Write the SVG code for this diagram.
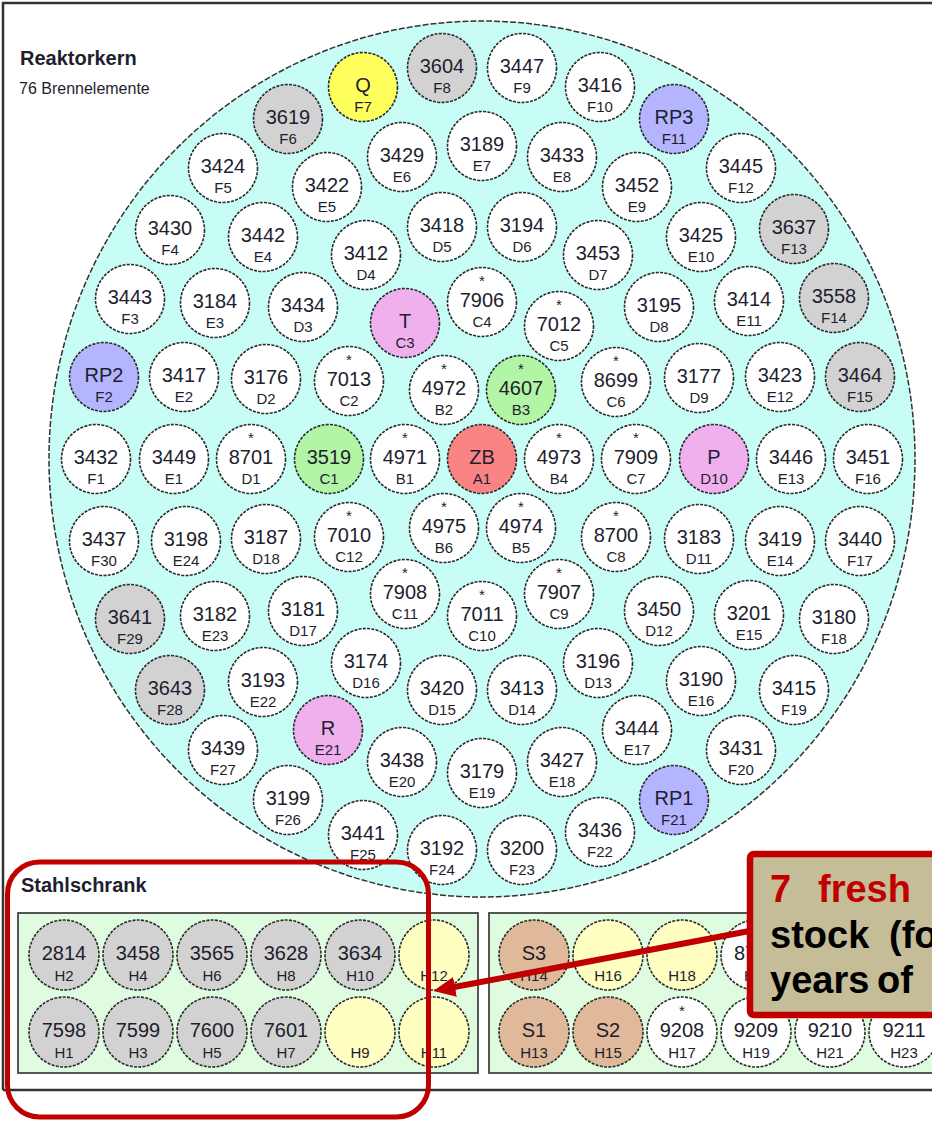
<svg xmlns="http://www.w3.org/2000/svg" width="932" height="1124" viewBox="0 0 932 1124">
<style>
.c{stroke:#2a2a2a;stroke-width:1.6;stroke-dasharray:3 1.3}
.w{fill:#fff}.g{fill:#d2d2d2}.y{fill:#ffff5e}.p{fill:#b4b4ff}.k{fill:#f0b0ee}.gr{fill:#b2f5a4}.r{fill:#fa8484}.ly{fill:#ffffc2}.s{fill:#dfb999}
text{font-family:"Liberation Sans",Arial,sans-serif;fill:#1e1e2e}
.n{font-size:20px;text-anchor:middle}
.l{font-size:15px;text-anchor:middle}
.a{font-size:15px;text-anchor:middle}
.h{font-size:20px;font-weight:bold}
.co{font-size:38px;font-weight:bold;fill:#000}
.red{fill:#c00000}
.box{fill:#e0fce0;stroke:#444;stroke-width:1.8}
</style>
<defs>
<marker id="ah" markerWidth="22" markerHeight="20" refX="2" refY="10" orient="auto" markerUnits="userSpaceOnUse"><path d="M0,0 L22,10 L0,20 z" fill="#c00000"/></marker>
</defs>
<rect width="932" height="1124" fill="#fff"/>
<path d="M3,1090 V3 H940 M3,1090 H940" fill="none" stroke="#333" stroke-width="2.5"/>
<text class="h" x="20" y="65">Reaktorkern</text>
<text x="19" y="94" style="font-size:16px">76 Brennelemente</text>
<ellipse id="core" cx="482" cy="459" rx="433" ry="438" fill="#c8fdf6" stroke="#333" stroke-width="1.5" stroke-dasharray="6 2"/>
<g id="nodes">
<g id="F8" transform="translate(442,68)"><circle class="c g" r="34.5"/><text class="n" y="5">3604</text><text class="l" y="25">F8</text></g>
<g id="F9" transform="translate(522,68)"><circle class="c w" r="34.5"/><text class="n" y="5">3447</text><text class="l" y="25">F9</text></g>
<g id="F10" transform="translate(600,87)"><circle class="c w" r="34.5"/><text class="n" y="5">3416</text><text class="l" y="25">F10</text></g>
<g id="F7" transform="translate(363,87)"><circle class="c y" r="34.5"/><text class="n" y="5">Q</text><text class="l" y="25">F7</text></g>
<g id="F6" transform="translate(288,119)"><circle class="c g" r="34.5"/><text class="n" y="5">3619</text><text class="l" y="25">F6</text></g>
<g id="F11" transform="translate(674,119)"><circle class="c p" r="34.5"/><text class="n" y="5">RP3</text><text class="l" y="25">F11</text></g>
<g id="F5" transform="translate(223,168)"><circle class="c w" r="34.5"/><text class="n" y="5">3424</text><text class="l" y="25">F5</text></g>
<g id="E6" transform="translate(402,157)"><circle class="c w" r="34.5"/><text class="n" y="5">3429</text><text class="l" y="25">E6</text></g>
<g id="E7" transform="translate(482,146)"><circle class="c w" r="34.5"/><text class="n" y="5">3189</text><text class="l" y="25">E7</text></g>
<g id="E8" transform="translate(562,157)"><circle class="c w" r="34.5"/><text class="n" y="5">3433</text><text class="l" y="25">E8</text></g>
<g id="F12" transform="translate(741,168)"><circle class="c w" r="34.5"/><text class="n" y="5">3445</text><text class="l" y="25">F12</text></g>
<g id="E5" transform="translate(327,187)"><circle class="c w" r="34.5"/><text class="n" y="5">3422</text><text class="l" y="25">E5</text></g>
<g id="E9" transform="translate(637,187)"><circle class="c w" r="34.5"/><text class="n" y="5">3452</text><text class="l" y="25">E9</text></g>
<g id="F4" transform="translate(170,230)"><circle class="c w" r="34.5"/><text class="n" y="5">3430</text><text class="l" y="25">F4</text></g>
<g id="E4" transform="translate(263,237)"><circle class="c w" r="34.5"/><text class="n" y="5">3442</text><text class="l" y="25">E4</text></g>
<g id="D5" transform="translate(442,227)"><circle class="c w" r="34.5"/><text class="n" y="5">3418</text><text class="l" y="25">D5</text></g>
<g id="D6" transform="translate(522,227)"><circle class="c w" r="34.5"/><text class="n" y="5">3194</text><text class="l" y="25">D6</text></g>
<g id="E10" transform="translate(701,237)"><circle class="c w" r="34.5"/><text class="n" y="5">3425</text><text class="l" y="25">E10</text></g>
<g id="F13" transform="translate(794,229)"><circle class="c g" r="34.5"/><text class="n" y="5">3637</text><text class="l" y="25">F13</text></g>
<g id="D4" transform="translate(366,255)"><circle class="c w" r="34.5"/><text class="n" y="5">3412</text><text class="l" y="25">D4</text></g>
<g id="D7" transform="translate(598,255)"><circle class="c w" r="34.5"/><text class="n" y="5">3453</text><text class="l" y="25">D7</text></g>
<g id="F3" transform="translate(130,299)"><circle class="c w" r="34.5"/><text class="n" y="5">3443</text><text class="l" y="25">F3</text></g>
<g id="E3" transform="translate(215,303)"><circle class="c w" r="34.5"/><text class="n" y="5">3184</text><text class="l" y="25">E3</text></g>
<g id="D3" transform="translate(303,307)"><circle class="c w" r="34.5"/><text class="n" y="5">3434</text><text class="l" y="25">D3</text></g>
<g id="C3" transform="translate(405,323)"><circle class="c k" r="34.5"/><text class="n" y="5">T</text><text class="l" y="25">C3</text></g>
<g id="C4" transform="translate(482,302)"><circle class="c w" r="34.5"/><text class="a" y="-16">*</text><text class="n" y="5">7906</text><text class="l" y="25">C4</text></g>
<g id="C5" transform="translate(559,326)"><circle class="c w" r="34.5"/><text class="a" y="-16">*</text><text class="n" y="5">7012</text><text class="l" y="25">C5</text></g>
<g id="D8" transform="translate(659,307)"><circle class="c w" r="34.5"/><text class="n" y="5">3195</text><text class="l" y="25">D8</text></g>
<g id="E11" transform="translate(749,301)"><circle class="c w" r="34.5"/><text class="n" y="5">3414</text><text class="l" y="25">E11</text></g>
<g id="F14" transform="translate(834,298)"><circle class="c g" r="34.5"/><text class="n" y="5">3558</text><text class="l" y="25">F14</text></g>
<g id="F2" transform="translate(104,377)"><circle class="c p" r="34.5"/><text class="n" y="5">RP2</text><text class="l" y="25">F2</text></g>
<g id="E2" transform="translate(184,377)"><circle class="c w" r="34.5"/><text class="n" y="5">3417</text><text class="l" y="25">E2</text></g>
<g id="D2" transform="translate(266,379)"><circle class="c w" r="34.5"/><text class="n" y="5">3176</text><text class="l" y="25">D2</text></g>
<g id="C2" transform="translate(349,381)"><circle class="c w" r="34.5"/><text class="a" y="-16">*</text><text class="n" y="5">7013</text><text class="l" y="25">C2</text></g>
<g id="B2" transform="translate(444,390)"><circle class="c w" r="34.5"/><text class="a" y="-16">*</text><text class="n" y="5">4972</text><text class="l" y="25">B2</text></g>
<g id="B3" transform="translate(521,390)"><circle class="c gr" r="34.5"/><text class="a" y="-16">*</text><text class="n" y="5">4607</text><text class="l" y="25">B3</text></g>
<g id="C6" transform="translate(616,382)"><circle class="c w" r="34.5"/><text class="a" y="-16">*</text><text class="n" y="5">8699</text><text class="l" y="25">C6</text></g>
<g id="D9" transform="translate(699,378)"><circle class="c w" r="34.5"/><text class="n" y="5">3177</text><text class="l" y="25">D9</text></g>
<g id="E12" transform="translate(780,377)"><circle class="c w" r="34.5"/><text class="n" y="5">3423</text><text class="l" y="25">E12</text></g>
<g id="F15" transform="translate(860,377)"><circle class="c g" r="34.5"/><text class="n" y="5">3464</text><text class="l" y="25">F15</text></g>
<g id="F1" transform="translate(96,459)"><circle class="c w" r="34.5"/><text class="n" y="5">3432</text><text class="l" y="25">F1</text></g>
<g id="E1" transform="translate(174,459)"><circle class="c w" r="34.5"/><text class="n" y="5">3449</text><text class="l" y="25">E1</text></g>
<g id="D1" transform="translate(251,459)"><circle class="c w" r="34.5"/><text class="a" y="-16">*</text><text class="n" y="5">8701</text><text class="l" y="25">D1</text></g>
<g id="C1" transform="translate(329,459)"><circle class="c gr" r="34.5"/><text class="n" y="5">3519</text><text class="l" y="25">C1</text></g>
<g id="B1" transform="translate(405,459)"><circle class="c w" r="34.5"/><text class="a" y="-16">*</text><text class="n" y="5">4971</text><text class="l" y="25">B1</text></g>
<g id="A1" transform="translate(482,459)"><circle class="c r" r="34.5"/><text class="n" y="5">ZB</text><text class="l" y="25">A1</text></g>
<g id="B4" transform="translate(559,459)"><circle class="c w" r="34.5"/><text class="a" y="-16">*</text><text class="n" y="5">4973</text><text class="l" y="25">B4</text></g>
<g id="C7" transform="translate(636,459)"><circle class="c w" r="34.5"/><text class="a" y="-16">*</text><text class="n" y="5">7909</text><text class="l" y="25">C7</text></g>
<g id="D10" transform="translate(714,459)"><circle class="c k" r="34.5"/><text class="n" y="5">P</text><text class="l" y="25">D10</text></g>
<g id="E13" transform="translate(791,459)"><circle class="c w" r="34.5"/><text class="n" y="5">3446</text><text class="l" y="25">E13</text></g>
<g id="F16" transform="translate(868,459)"><circle class="c w" r="34.5"/><text class="n" y="5">3451</text><text class="l" y="25">F16</text></g>
<g id="F30" transform="translate(104,541)"><circle class="c w" r="34.5"/><text class="n" y="5">3437</text><text class="l" y="25">F30</text></g>
<g id="E24" transform="translate(186,541)"><circle class="c w" r="34.5"/><text class="n" y="5">3198</text><text class="l" y="25">E24</text></g>
<g id="D18" transform="translate(266,539)"><circle class="c w" r="34.5"/><text class="n" y="5">3187</text><text class="l" y="25">D18</text></g>
<g id="C12" transform="translate(349,537)"><circle class="c w" r="34.5"/><text class="a" y="-16">*</text><text class="n" y="5">7010</text><text class="l" y="25">C12</text></g>
<g id="B6" transform="translate(444,528)"><circle class="c w" r="34.5"/><text class="a" y="-16">*</text><text class="n" y="5">4975</text><text class="l" y="25">B6</text></g>
<g id="B5" transform="translate(521,528)"><circle class="c w" r="34.5"/><text class="a" y="-16">*</text><text class="n" y="5">4974</text><text class="l" y="25">B5</text></g>
<g id="C8" transform="translate(616,537)"><circle class="c w" r="34.5"/><text class="a" y="-16">*</text><text class="n" y="5">8700</text><text class="l" y="25">C8</text></g>
<g id="D11" transform="translate(699,539)"><circle class="c w" r="34.5"/><text class="n" y="5">3183</text><text class="l" y="25">D11</text></g>
<g id="E14" transform="translate(780,541)"><circle class="c w" r="34.5"/><text class="n" y="5">3419</text><text class="l" y="25">E14</text></g>
<g id="F17" transform="translate(860,541)"><circle class="c w" r="34.5"/><text class="n" y="5">3440</text><text class="l" y="25">F17</text></g>
<g id="F29" transform="translate(130,619)"><circle class="c g" r="34.5"/><text class="n" y="5">3641</text><text class="l" y="25">F29</text></g>
<g id="E23" transform="translate(215,616)"><circle class="c w" r="34.5"/><text class="n" y="5">3182</text><text class="l" y="25">E23</text></g>
<g id="D17" transform="translate(303,611)"><circle class="c w" r="34.5"/><text class="n" y="5">3181</text><text class="l" y="25">D17</text></g>
<g id="C11" transform="translate(405,594)"><circle class="c w" r="34.5"/><text class="a" y="-16">*</text><text class="n" y="5">7908</text><text class="l" y="25">C11</text></g>
<g id="C10" transform="translate(482,616)"><circle class="c w" r="34.5"/><text class="a" y="-16">*</text><text class="n" y="5">7011</text><text class="l" y="25">C10</text></g>
<g id="C9" transform="translate(559,594)"><circle class="c w" r="34.5"/><text class="a" y="-16">*</text><text class="n" y="5">7907</text><text class="l" y="25">C9</text></g>
<g id="D12" transform="translate(659,611)"><circle class="c w" r="34.5"/><text class="n" y="5">3450</text><text class="l" y="25">D12</text></g>
<g id="E15" transform="translate(749,615)"><circle class="c w" r="34.5"/><text class="n" y="5">3201</text><text class="l" y="25">E15</text></g>
<g id="F18" transform="translate(834,619)"><circle class="c w" r="34.5"/><text class="n" y="5">3180</text><text class="l" y="25">F18</text></g>
<g id="F28" transform="translate(170,690)"><circle class="c g" r="34.5"/><text class="n" y="5">3643</text><text class="l" y="25">F28</text></g>
<g id="E22" transform="translate(263,682)"><circle class="c w" r="34.5"/><text class="n" y="5">3193</text><text class="l" y="25">E22</text></g>
<g id="E21" transform="translate(328,730)"><circle class="c k" r="34.5"/><text class="n" y="5">R</text><text class="l" y="25">E21</text></g>
<g id="D16" transform="translate(366,663)"><circle class="c w" r="34.5"/><text class="n" y="5">3174</text><text class="l" y="25">D16</text></g>
<g id="D15" transform="translate(442,690)"><circle class="c w" r="34.5"/><text class="n" y="5">3420</text><text class="l" y="25">D15</text></g>
<g id="D14" transform="translate(522,690)"><circle class="c w" r="34.5"/><text class="n" y="5">3413</text><text class="l" y="25">D14</text></g>
<g id="D13" transform="translate(598,663)"><circle class="c w" r="34.5"/><text class="n" y="5">3196</text><text class="l" y="25">D13</text></g>
<g id="E16" transform="translate(701,681)"><circle class="c w" r="34.5"/><text class="n" y="5">3190</text><text class="l" y="25">E16</text></g>
<g id="F19" transform="translate(794,690)"><circle class="c w" r="34.5"/><text class="n" y="5">3415</text><text class="l" y="25">F19</text></g>
<g id="F27" transform="translate(223,750)"><circle class="c w" r="34.5"/><text class="n" y="5">3439</text><text class="l" y="25">F27</text></g>
<g id="E20" transform="translate(402,762)"><circle class="c w" r="34.5"/><text class="n" y="5">3438</text><text class="l" y="25">E20</text></g>
<g id="E19" transform="translate(482,773)"><circle class="c w" r="34.5"/><text class="n" y="5">3179</text><text class="l" y="25">E19</text></g>
<g id="E18" transform="translate(562,762)"><circle class="c w" r="34.5"/><text class="n" y="5">3427</text><text class="l" y="25">E18</text></g>
<g id="E17" transform="translate(637,730)"><circle class="c w" r="34.5"/><text class="n" y="5">3444</text><text class="l" y="25">E17</text></g>
<g id="F20" transform="translate(741,750)"><circle class="c w" r="34.5"/><text class="n" y="5">3431</text><text class="l" y="25">F20</text></g>
<g id="F26" transform="translate(288,800)"><circle class="c w" r="34.5"/><text class="n" y="5">3199</text><text class="l" y="25">F26</text></g>
<g id="F21" transform="translate(674,800)"><circle class="c p" r="34.5"/><text class="n" y="5">RP1</text><text class="l" y="25">F21</text></g>
<g id="F25" transform="translate(363,835)"><circle class="c w" r="34.5"/><text class="n" y="5">3441</text><text class="l" y="25">F25</text></g>
<g id="F24" transform="translate(442,850)"><circle class="c w" r="34.5"/><text class="n" y="5">3192</text><text class="l" y="25">F24</text></g>
<g id="F23" transform="translate(522,850)"><circle class="c w" r="34.5"/><text class="n" y="5">3200</text><text class="l" y="25">F23</text></g>
<g id="F22" transform="translate(600,832)"><circle class="c w" r="34.5"/><text class="n" y="5">3436</text><text class="l" y="25">F22</text></g>
</g>
<text class="h" x="21" y="892">Stahlschrank</text>
<rect id="boxL" class="box" x="18" y="913" width="460" height="160"/>
<rect id="boxR" class="box" x="489" y="913" width="460" height="160"/>
<g id="hnodes">
<g id="H2" transform="translate(64,955)"><circle class="c g" r="35"/><text class="n" y="5">2814</text><text class="l" y="26">H2</text></g>
<g id="H4" transform="translate(138,955)"><circle class="c g" r="35"/><text class="n" y="5">3458</text><text class="l" y="26">H4</text></g>
<g id="H6" transform="translate(212,955)"><circle class="c g" r="35"/><text class="n" y="5">3565</text><text class="l" y="26">H6</text></g>
<g id="H8" transform="translate(286,955)"><circle class="c g" r="35"/><text class="n" y="5">3628</text><text class="l" y="26">H8</text></g>
<g id="H10" transform="translate(360,955)"><circle class="c g" r="35"/><text class="n" y="5">3634</text><text class="l" y="26">H10</text></g>
<g id="H12" transform="translate(434,955)"><circle class="c ly" r="35"/><text class="l" y="26">H12</text></g>
<g id="H1" transform="translate(64,1032)"><circle class="c g" r="35"/><text class="n" y="5">7598</text><text class="l" y="26">H1</text></g>
<g id="H3" transform="translate(138,1032)"><circle class="c g" r="35"/><text class="n" y="5">7599</text><text class="l" y="26">H3</text></g>
<g id="H5" transform="translate(212,1032)"><circle class="c g" r="35"/><text class="n" y="5">7600</text><text class="l" y="26">H5</text></g>
<g id="H7" transform="translate(286,1032)"><circle class="c g" r="35"/><text class="n" y="5">7601</text><text class="l" y="26">H7</text></g>
<g id="H9" transform="translate(360,1032)"><circle class="c ly" r="35"/><text class="l" y="26">H9</text></g>
<g id="H11" transform="translate(434,1032)"><circle class="c ly" r="35"/><text class="l" y="26">H11</text></g>
<g id="H14" transform="translate(534,955)"><circle class="c s" r="35"/><text class="n" y="5">S3</text><text class="l" y="26">H14</text></g>
<g id="H16" transform="translate(608,955)"><circle class="c ly" r="35"/><text class="l" y="26">H16</text></g>
<g id="H18" transform="translate(682,955)"><circle class="c ly" r="35"/><text class="l" y="26">H18</text></g>
<g id="H20" transform="translate(756,955)"><circle class="c w" r="35"/><text class="n" x="-22" y="5" style="text-anchor:start">87</text><text class="l" x="-12" y="26" style="text-anchor:start">H</text></g>
<g id="H13" transform="translate(534,1032)"><circle class="c s" r="35"/><text class="n" y="5">S1</text><text class="l" y="26">H13</text></g>
<g id="H15" transform="translate(608,1032)"><circle class="c s" r="35"/><text class="n" y="5">S2</text><text class="l" y="26">H15</text></g>
<g id="H17" transform="translate(682,1032)"><circle class="c w" r="35"/><text class="a" y="-16">*</text><text class="n" y="5">9208</text><text class="l" y="26">H17</text></g>
<g id="H19" transform="translate(756,1032)"><circle class="c w" r="35"/><text class="n" y="5">9209</text><text class="l" y="26">H19</text></g>
<g id="H21" transform="translate(830,1032)"><circle class="c w" r="35"/><text class="n" y="5">9210</text><text class="l" y="26">H21</text></g>
<g id="H23" transform="translate(904,1032)"><circle class="c w" r="35"/><text class="n" y="5">9211</text><text class="l" y="26">H23</text></g>
</g>
<g id="connectors">
<rect id="highlight" x="7.5" y="862" width="421" height="255" rx="32" fill="none" stroke="#c00000" stroke-width="5"/>
<line x1="760" y1="929" x2="453" y2="987.3" stroke="#c00000" stroke-width="6" marker-end="url(#ah)"/>
</g>
<g id="callout">
<rect x="750" y="854" width="220" height="161" rx="4" fill="#c5bc98" stroke="#c00000" stroke-width="6.5"/>
<text class="co red" y="902"><tspan x="770">7</tspan><tspan x="818">fresh</tspan></text>
<text class="co" y="948"><tspan x="770">stock</tspan><tspan x="889">(fo</tspan></text>
<text class="co" y="993"><tspan x="770">years</tspan><tspan x="877">of</tspan></text>
</g>
</svg>
